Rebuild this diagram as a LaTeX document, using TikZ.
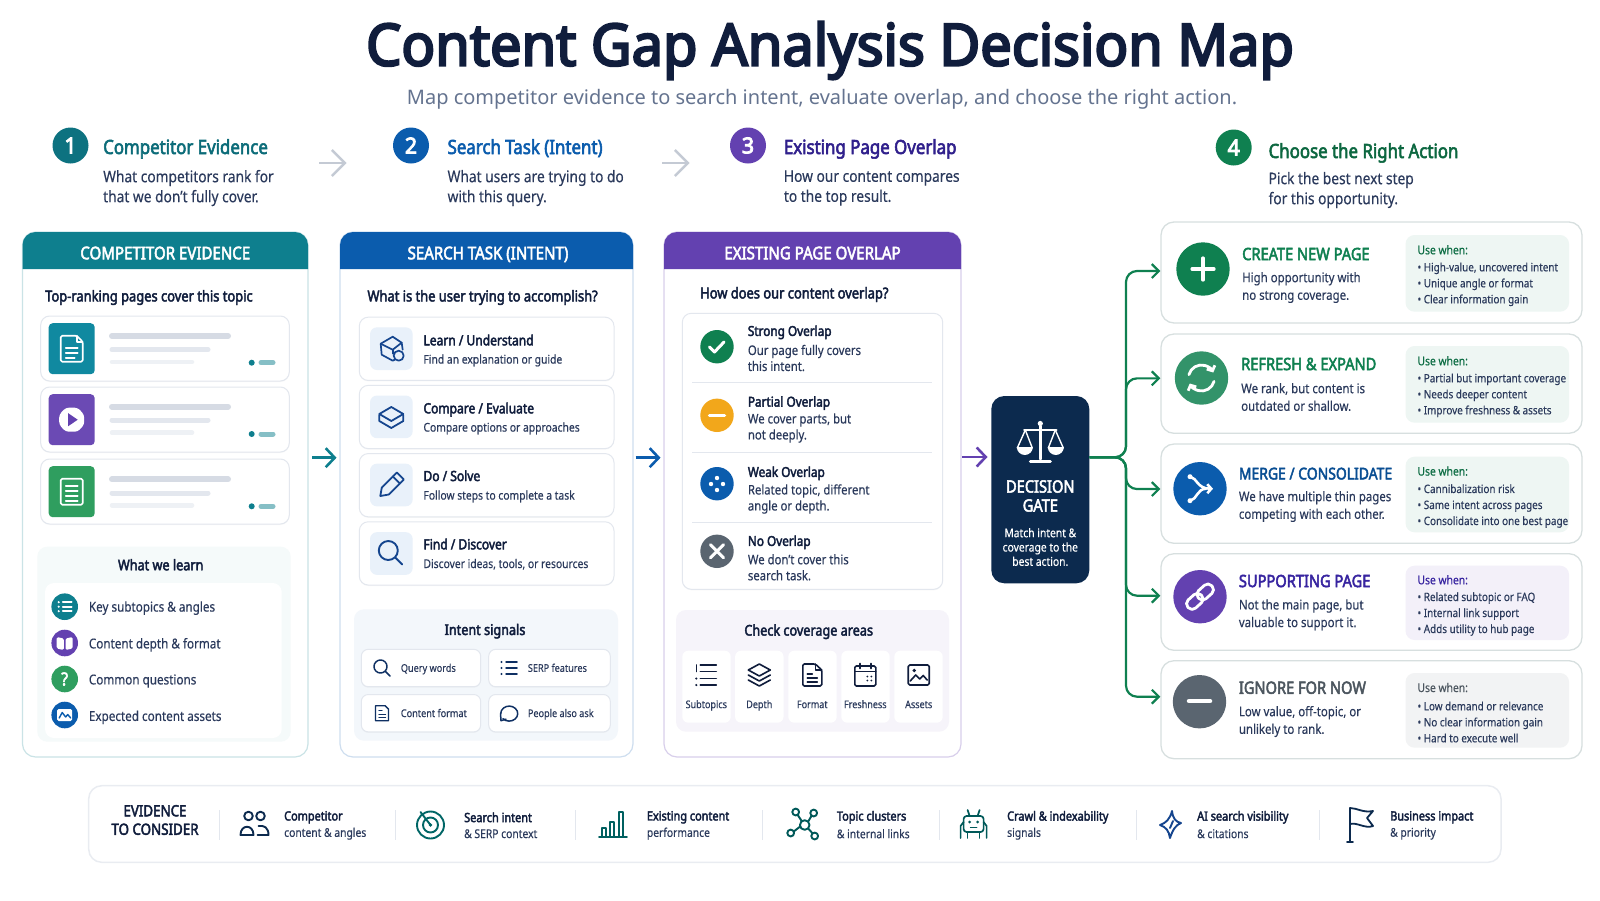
\documentclass[tikz,border=0pt]{standalone}
\usepackage{fontspec}
\setmainfont[FakeStretch=0.86,FakeBold=0.3]{Noto Sans}
\newfontfamily\midfont[FakeStretch=0.86,FakeBold=2.8]{Noto Sans}
\newfontfamily\boldfont[FakeStretch=0.965,FakeBold=4]{Noto Sans}
\newfontfamily\widefont{Noto Sans}
\usepackage{tikz}
\usetikzlibrary{arrows.meta,shadows}

\definecolor{ink}{HTML}{101D3C}
\definecolor{inksoft}{HTML}{2B3A5C}
\definecolor{slate}{HTML}{64738F}
\definecolor{tealc}{HTML}{0E7F8E}
\definecolor{bluec}{HTML}{0B5CAD}
\definecolor{purplec}{HTML}{6341B0}
\definecolor{greenc}{HTML}{0F8050}
\definecolor{greyc}{HTML}{5A6570}
\definecolor{amberc}{HTML}{F2A71B}
\definecolor{gatec}{HTML}{0C2A4E}
\definecolor{taskc}{HTML}{15458E}
\definecolor{taskbg}{HTML}{E9F1FA}
\definecolor{hairline}{HTML}{E3E7EE}
\definecolor{pageteal}{HTML}{1089A0}
\definecolor{pagegreen}{HTML}{2F9E5F}

\begin{document}
\begin{tikzpicture}[%
    x=1pt,
    y=-1pt,
    >={Straight Barb[length=7pt,width=14pt]},
    pane/.style={%
        draw,
        fill=white,
        rounded corners=13pt,
        line width=1.2pt,
        minimum height=525pt,
        inner sep=0pt
    },
    softcard/.style={%
        draw=hairline,
        fill=white,
        rounded corners=9pt,
        line width=1pt,
        inner sep=0pt,
        drop shadow={shadow xshift=0pt,shadow yshift=-1pt,opacity=0.06}
    },
    pagecard/.style={softcard,minimum width=248.6pt,minimum height=65pt},
    pageicon/.style={rounded corners=4pt,minimum width=46pt,minimum height=51pt,inner sep=0pt},
    learnpanel/.style={fill=#1,rounded corners=10pt,inner sep=0pt},
    taskcard/.style={softcard,minimum width=254.7pt,minimum height=63.3pt},
    taskicon/.style={fill=taskbg,rounded corners=7pt,minimum size=42.7pt,inner sep=0pt},
    chipl/.style={softcard,rounded corners=7pt,minimum width=119.4pt,minimum height=37.4pt},
    chipr/.style={softcard,rounded corners=7pt,minimum width=121.6pt,minimum height=37.4pt},
    tile/.style={fill=white,rounded corners=6pt,minimum width=48.4pt,minimum height=72pt,inner sep=0pt},
    actioncard/.style={draw=teal!25!gray!25!white,fill=white,rounded corners=13pt,line width=1.3pt,minimum width=421pt,inner sep=0pt},
    usepanel/.style={fill=#1,rounded corners=9pt,minimum width=163.5pt,inner sep=0pt},
    disc/.style={circle,fill=#1,inner sep=0pt},
    stepdisc/.style={disc=#1,minimum size=36pt,text=white,font=\fontsize{22}{22}\boldfont},
    smalldisc/.style={disc=#1,minimum size=26.6pt},
    overlapdisc/.style={disc=#1,minimum size=33.4pt},
    actiondisc/.style={disc=#1,minimum size=53.4pt},
    txt/.style={inner sep=0pt,anchor=west,align=left,text=ink},
    titletext/.style={inner sep=0pt,text=ink,font=\fontsize{58}{60}\boldfont,text height=41pt,text depth=0pt},
    subtitletext/.style={inner sep=0pt,text=slate,font=\fontsize{20}{24}\widefont,text height=14.5pt,text depth=0pt},
    steptitle/.style={txt,text=#1,font=\fontsize{19.6}{24}\midfont,text height=14pt,text depth=0pt},
    stepsub/.style={txt,text=inksoft,font=\fontsize{16}{20}\selectfont},
    headtext/.style={inner sep=0pt,text=white,font=\fontsize{17.5}{19}\midfont,text height=12.5pt,text depth=0pt},
    question/.style={txt,font=\fontsize{15}{17}\midfont,text height=10.8pt,text depth=0pt},
    paneltitle/.style={inner sep=0pt,text=ink,font=\fontsize{14.7}{17}\midfont,text height=10.5pt,text depth=0pt},
    learntext/.style={txt,text=inksoft,font=\fontsize{13.6}{16}\selectfont,text height=9.8pt,text depth=0pt},
    itemtitle/.style={txt,font=\fontsize{14}{17}\midfont,text height=10pt,text depth=0pt},
    itemsub/.style={txt,text=inksoft,font=\fontsize{12}{14}\selectfont,text height=8.6pt,text depth=0pt},
    overlaptitle/.style={txt,font=\fontsize{13.7}{16}\midfont,text height=9.8pt,text depth=0pt},
    overlapsub/.style={txt,text=inksoft,font=\fontsize{13.2}{16}\selectfont},
    chiptext/.style={txt,text=inksoft,font=\fontsize{10.6}{13}\selectfont,text height=7.6pt,text depth=0pt},
    tiletext/.style={inner sep=0pt,text=inksoft,font=\fontsize{10.5}{13}\selectfont,text height=7.6pt,text depth=0pt},
    gatetitle/.style={inner sep=0pt,align=center,text=white,font=\fontsize{17}{19}\midfont},
    gatesub/.style={inner sep=0pt,align=center,text=white,font=\fontsize{12}{14.3}\selectfont},
    actiontitle/.style={txt,text=#1,font=\fontsize{17}{19}\midfont,text height=12.2pt,text depth=0pt},
    actionsub/.style={txt,text=inksoft,font=\fontsize{13.3}{17.6}\selectfont},
    usehead/.style={txt,text=#1,font=\fontsize{12}{14}\selectfont,text height=8.6pt,text depth=0pt},
    usebullets/.style={txt,text=inksoft,font=\fontsize{11.5}{16}\selectfont},
    bartitle/.style={inner sep=0pt,align=center,text=ink,font=\fontsize{15.5}{18.5}\midfont},
    bartext/.style={txt,text=inksoft,font=\fontsize{12}{16.4}\selectfont},
    barlead/.style={font=\fontsize{12.7}{16.4}\midfont},
    divider/.style={draw=hairline,line width=1pt},
    bar/.style={line width=#1,line cap=round},
    glyph/.style={line width=#1,line cap=round,line join=round},
    flow/.style={line width=2.6pt,draw=#1,>={Straight Barb[length=9pt,width=19pt]}},
    stepflow/.style={line width=2.4pt,draw=slate!38!white,>={Straight Barb[length=13pt,width=26pt]}},
    branch/.style={line width=2.2pt,draw=greenc,rounded corners=11pt}
]

% Title
    \node[titletext] (title) at (830,45) {Content Gap Analysis Decision Map};
    \node[subtitletext] (subtitle) at (822,97) {Map competitor evidence to search intent, evaluate overlap, and choose the right action.};

% Steps
    \node[stepdisc=tealc!90!black] (disc1) at (70.5,145.5) {1};
    \node[steptitle={tealc!85!black}] (steptitle1) at (103,147) {Competitor Evidence};
    \node[stepsub] (stepsub1) at (103,188) {What competitors rank for\\that we don't fully cover.};
    \node[stepdisc=bluec] (disc2) at (411,145.5) {2};
    \node[steptitle=bluec] (steptitle2) at (447.4,147) {Search Task (Intent)};
    \node[stepsub] (stepsub2) at (447.4,188) {What users are trying to do\\with this query.};
    \node[stepdisc=purplec] (disc3) at (748,145.5) {3};
    \node[steptitle={purplec!70!blue!70!black}] (steptitle3) at (783.7,147) {Existing Page Overlap};
    \node[stepsub] (stepsub3) at (783.7,188) {How our content compares\\to the top result.};
    \node[stepdisc=greenc] (disc4) at (1233.7,147.5) {4};
    \node[steptitle={greenc!80!black}] (steptitle4) at (1268.4,151) {Choose the Right Action};
    \node[stepsub] (stepsub4) at (1268.4,190) {Pick the best next step\\for this opportunity.};

    \coordinate (stepfrom1) at (319,163);
    \coordinate (stepto1) at (346.5,163);
    \coordinate (stepfrom2) at (662,163);
    \coordinate (stepto2) at (689.5,163);
    \draw[stepflow,->] (stepfrom1) -- (stepto1);
    \draw[stepflow,->] (stepfrom2) -- (stepto2);

% Panes
    \node[pane,draw=tealc!22!white,minimum width=285.5pt] (pane1) at (165.25,494.5) {};
    \node[pane,draw=bluec!20!white,minimum width=293pt] (pane2) at (486.5,494.5) {};
    \node[pane,draw=purplec!25!white,minimum width=297pt] (pane3) at (812.5,494.5) {};
    \fill[tealc] (22.5,269) [rounded corners=13pt] -- (22.5,232) -- (308,232) [sharp corners] -- (308,269) -- cycle;
    \fill[bluec] (340,269) [rounded corners=13pt] -- (340,232) -- (633,232) [sharp corners] -- (633,269) -- cycle;
    \fill[purplec] (664,269) [rounded corners=13pt] -- (664,232) -- (961,232) [sharp corners] -- (961,269) -- cycle;
    \node[headtext] (head1) at (165.25,253) {COMPETITOR EVIDENCE};
    \node[headtext] (head2) at (488,253) {SEARCH TASK (INTENT)};
    \node[headtext] (head3) at (812.5,253) {EXISTING PAGE OVERLAP};

% Competitor pane
    \node[question] (question1) at (45,296) {Top-ranking pages cover this topic};
    \node[pagecard] (page1) at (165,348.5) {};
    \node[pagecard] (page2) at (165,419.5) {};
    \node[pagecard] (page3) at (165,491.5) {};
    \node[pageicon,fill=pageteal] (pageicon1) at (71.7,348.7) {};
    \node[pageicon,fill=purplec!95!white] (pageicon2) at (71.7,419.7) {};
    \node[pageicon,fill=pagegreen] (pageicon3) at (71.7,491.7) {};
    \begin{scope}[shift={(71.7,348.7)},draw=white,glyph=1.6pt]
        \draw[rounded corners=1.5pt] (-11,-13) -- (5,-13) -- (11,-7) -- (11,13) -- (-11,13) -- cycle;
        \draw (5,-13) -- (5,-7) -- (11,-7);
        \draw (-6,-1) -- (6,-1);
        \draw (-6,4) -- (6,4);
        \draw (-6,9) -- (3,9);
    \end{scope}
    \begin{scope}[shift={(71.7,419.7)}]
        \fill[white,rounded corners=3pt] (-12.5,-5) -- (-6,-12) -- (6,-12) -- (12.5,-5) -- (12.5,5) -- (6,12) -- (-6,12) -- (-12.5,5) -- cycle;
        \fill[purplec] (-3.5,-6.5) -- (6,0) -- (-3.5,6.5) -- cycle;
    \end{scope}
    \begin{scope}[shift={(71.7,491.7)},draw=white,glyph=1.6pt]
        \draw[rounded corners=1.5pt] (-11,-13) rectangle (11,13);
        \draw (-6,-6) -- (6,-6);
        \draw (-6,-1) -- (6,-1);
        \draw (-6,4) -- (6,4);
        \draw (-6,9) -- (6,9);
    \end{scope}
    \draw[bar=6pt,draw=hairline!90!slate] (112,336) -- (228,336);
    \draw[bar=5pt,draw=hairline] (112,349.7) -- (208,349.7);
    \draw[bar=4.5pt,draw=hairline!60!white] (112,362) -- (192,362);
    \fill[tealc] (251.7,362.7) circle[radius=3];
    \draw[bar=5pt,draw=tealc!50!white] (261,362.7) -- (273,362.7);
    \draw[bar=6pt,draw=hairline!90!slate] (112,406.7) -- (228,406.7);
    \draw[bar=5pt,draw=hairline] (112,420) -- (208,420);
    \draw[bar=4.5pt,draw=hairline!60!white] (112,432.7) -- (192,432.7);
    \fill[tealc] (251.7,434) circle[radius=3];
    \draw[bar=5pt,draw=tealc!50!white] (261,434) -- (273,434);
    \draw[bar=6pt,draw=hairline!90!slate] (112,479.3) -- (228,479.3);
    \draw[bar=5pt,draw=hairline] (112,493) -- (208,493);
    \draw[bar=4.5pt,draw=hairline!60!white] (112,505.3) -- (192,505.3);
    \fill[tealc] (251.7,506.3) circle[radius=3];
    \draw[bar=5pt,draw=tealc!50!white] (261,506.3) -- (273,506.3);

% What we learn
    \node[learnpanel=tealc!4!white,minimum width=253.4pt,minimum height=195pt] (learnpanel) at (164,644.2) {};
    \node[fill=white,rounded corners=9pt,minimum width=236.7pt,minimum height=155pt,inner sep=0pt] (learninner) at (163.35,660.5) {};
    \node[paneltitle] (learntitle) at (160.7,565) {What we learn};
    \node[smalldisc=tealc] (learndisc1) at (64.7,606.7) {};
    \node[smalldisc=purplec] (learndisc2) at (64.7,643) {};
    \node[smalldisc=pagegreen,text=white,font=\fontsize{18}{18}\midfont] (learndisc3) at (64.7,679) {?};
    \node[smalldisc=bluec] (learndisc4) at (64.7,715) {};
    \node[learntext] (learntext1) at (88.7,606.7) {Key subtopics \& angles};
    \node[learntext] (learntext2) at (88.7,643.5) {Content depth \& format};
    \node[learntext] (learntext3) at (88.7,679.5) {Common questions};
    \node[learntext] (learntext4) at (88.7,716) {Expected content assets};
    \begin{scope}[shift={(64.7,606.7)},draw=white,glyph=1.6pt]
        \draw (-2,-4.5) -- (7,-4.5);
        \draw (-2,0) -- (7,0);
        \draw (-2,4.5) -- (7,4.5);
        \fill[white] (-6,-4.5) circle[radius=1.2];
        \fill[white] (-6,0) circle[radius=1.2];
        \fill[white] (-6,4.5) circle[radius=1.2];
    \end{scope}
    \begin{scope}[shift={(64.7,643)}]
        \fill[white,rounded corners=1.5pt] (-8,-6) -- (-0.8,-4.5) -- (-0.8,7) -- (-8,5.5) -- cycle;
        \fill[white,rounded corners=1.5pt] (8,-6) -- (0.8,-4.5) -- (0.8,7) -- (8,5.5) -- cycle;
    \end{scope}
    \begin{scope}[shift={(64.7,715)}]
        \fill[white,rounded corners=1.5pt] (-7.5,-6) rectangle (7.5,6);
        \draw[glyph=1.4pt,draw=bluec] (-5.5,3) -- (-2.5,-2.5) -- (1,2) -- (3,-0.5) -- (6,3);
    \end{scope}

% Teal arrow
    \coordinate (from1) at (312,457.7);
    \coordinate (to1) at (336.5,457.7);
    \draw[flow=tealc,->] (from1) -- (to1);

% Search task pane
    \node[question] (question2) at (367.3,296) {What is the user trying to accomplish?};
    \node[taskcard] (task1) at (486.65,348.8) {};
    \node[taskcard] (task2) at (486.65,417) {};
    \node[taskcard] (task3) at (486.65,485.2) {};
    \node[taskcard] (task4) at (486.65,553.4) {};
    \node[taskicon] (taskicon1) at (391.35,348.65) {};
    \node[taskicon] (taskicon2) at (391.35,416.85) {};
    \node[taskicon] (taskicon3) at (391.35,485) {};
    \node[taskicon] (taskicon4) at (391.35,553.5) {};
    \node[itemtitle] (tasktitle1) at (423.3,340.3) {Learn / Understand};
    \node[itemsub] (tasksub1) at (423.3,359.3) {Find an explanation or guide};
    \node[itemtitle] (tasktitle2) at (423.3,408.3) {Compare / Evaluate};
    \node[itemsub] (tasksub2) at (423.3,427.3) {Compare options or approaches};
    \node[itemtitle] (tasktitle3) at (423.3,476) {Do / Solve};
    \node[itemsub] (tasksub3) at (423.3,495.3) {Follow steps to complete a task};
    \node[itemtitle] (tasktitle4) at (423.3,544.3) {Find / Discover};
    \node[itemsub] (tasksub4) at (423.3,563.7) {Discover ideas, tools, or resources};
    \begin{scope}[shift={(391.7,348.7)},draw=taskc,glyph=1.7pt]
        \draw (-11,-5) -- (1,-12) -- (10,-6) -- (11,1);
        \draw (-11,-5) -- (-10,6) -- (1,12) -- (3,11);
        \draw (-11,-5) -- (1,1) -- (10,-6);
        \draw (1,1) -- (1,5);
        \draw[fill=taskbg] (7,7) circle[radius=5];
    \end{scope}
    \begin{scope}[shift={(391.3,417)},draw=taskc,glyph=1.8pt]
        \draw (-12,-3) -- (0,-10) -- (12,-3) -- (0,4) -- cycle;
        \draw (-12,-2) -- (-12,4) -- (0,11) -- (12,4) -- (12,-2);
    \end{scope}
    \begin{scope}[shift={(391.3,485)},draw=taskc,glyph=1.8pt]
        \draw (-11,11) -- (-9.5,2.5) -- (5.5,-12.5) -- (12.5,-5.5) -- (-2.5,9.5) -- cycle;
        \draw (1.5,-8.5) -- (8.5,-1.5);
    \end{scope}
    \begin{scope}[shift={(391.3,553.5)},draw=taskc,glyph=1.9pt]
        \draw (-3,-3) circle[radius=9.5];
        \draw (4,4) -- (11,11);
    \end{scope}

% Intent signals
    \node[learnpanel=bluec!5!white,minimum width=264pt,minimum height=131.4pt] (signalpanel) at (486,675) {};
    \node[paneltitle] (signaltitle) at (485,629.7) {Intent signals};
    \node[chipl] (chip1) at (421,668) {};
    \node[chipr] (chip2) at (549.5,668) {};
    \node[chipl] (chip3) at (421,713.2) {};
    \node[chipr] (chip4) at (549.5,713.2) {};
    \node[chiptext] (chiptext1) at (400.7,668) {Query words};
    \node[chiptext] (chiptext2) at (527.7,668) {SERP features};
    \node[chiptext] (chiptext3) at (400.7,713.2) {Content format};
    \node[chiptext] (chiptext4) at (527.7,713.2) {People also ask};
    \begin{scope}[shift={(382,668)},draw=taskc!70!black,glyph=1.5pt]
        \draw (-1.5,-1.5) circle[radius=6.5];
        \draw (3.5,3.5) -- (8,8);
    \end{scope}
    \begin{scope}[shift={(509,668)},draw=taskc!70!black,glyph=1.5pt]
        \draw (-3,-6) -- (8,-6);
        \draw (-3,0) -- (8,0);
        \draw (-3,6) -- (8,6);
        \fill[taskc!70!black] (-7.5,-6) circle[radius=1.1];
        \fill[taskc!70!black] (-7.5,0) circle[radius=1.1];
        \fill[taskc!70!black] (-7.5,6) circle[radius=1.1];
    \end{scope}
    \begin{scope}[shift={(382,713.2)},draw=taskc!70!black,glyph=1.4pt]
        \draw (-6.5,-7.5) -- (3,-7.5) -- (6.5,-4) -- (6.5,7.5) -- (-6.5,7.5) -- cycle;
        \draw (-3,-3) -- (0,-3);
        \draw (-3,1) -- (3.5,1);
        \draw (-3,4.5) -- (3.5,4.5);
    \end{scope}
    \begin{scope}[shift={(509,713.2)},draw=taskc!70!black,glyph=1.5pt]
        \draw (-6,5.5) arc[start angle=137,end angle=-180,x radius=8.5,y radius=7.5];
        \draw (-8.5,0.3) -- (-8,7.5) -- (-3,6);
    \end{scope}

% Purple and blue arrows
    \coordinate (from2) at (635.5,457.7);
    \coordinate (to2) at (660.5,457.7);
    \draw[flow=bluec,->] (from2) -- (to2);
    \coordinate (from3) at (962,457);
    \coordinate (to3) at (987.5,457);
    \draw[flow=purplec,->] (from3) -- (to3);

% Overlap pane
    \node[question] (question3) at (700,293) {How does our content overlap?};
    \node[softcard,minimum width=260.4pt,minimum height=276pt] (overlapcard) at (812.5,451.3) {};
    \draw[divider] (692.3,382.3) -- (932,382.3);
    \draw[divider] (692.3,452.3) -- (932,452.3);
    \draw[divider] (692.3,522.3) -- (932,522.3);
    \node[overlapdisc=greenc] (overlap1) at (717,346.7) {};
    \node[overlapdisc=amberc] (overlap2) at (717,415.3) {};
    \node[overlapdisc=bluec] (overlap3) at (717,483.7) {};
    \node[overlapdisc=greyc] (overlap4) at (717,551.3) {};
    \draw[glyph=3pt,draw=white] (709.5,347) -- (714.5,352) -- (724,342);
    \draw[glyph=3.5pt,draw=white] (709.5,415.3) -- (724.5,415.3);
    \fill[white] (717,478) circle[radius=2.2];
    \fill[white] (711,484) circle[radius=2.2];
    \fill[white] (723,484) circle[radius=2.2];
    \fill[white] (717,490) circle[radius=2.2];
    \draw[glyph=3pt,draw=white] (710.5,544.8) -- (723.5,557.8);
    \draw[glyph=3pt,draw=white] (723.5,544.8) -- (710.5,557.8);
    \node[overlaptitle] (overlaptitle1) at (747.7,331) {Strong Overlap};
    \node[overlapsub] (overlapsub1) at (747.7,358) {Our page fully covers\\this intent.};
    \node[overlaptitle] (overlaptitle2) at (747.7,401.7) {Partial Overlap};
    \node[overlapsub] (overlapsub2) at (747.7,428) {We cover parts, but\\not deeply.};
    \node[overlaptitle] (overlaptitle3) at (747.7,472) {Weak Overlap};
    \node[overlapsub] (overlapsub3) at (747.7,499) {Related topic, different\\angle or depth.};
    \node[overlaptitle] (overlaptitle4) at (747.7,541) {No Overlap};
    \node[overlapsub] (overlapsub4) at (747.7,567.3) {We don't cover this\\search task.};

% Check coverage areas
    \node[learnpanel=purplec!6!white,minimum width=273pt,minimum height=121.7pt] (coveragepanel) at (812.5,670.85) {};
    \node[paneltitle] (coveragetitle) at (808.7,630.3) {Check coverage areas};
    \node[tile] (tile1) at (706.5,686.7) {};
    \node[tile] (tile2) at (759.3,686.7) {};
    \node[tile] (tile3) at (812.5,686.7) {};
    \node[tile] (tile4) at (865.5,686.7) {};
    \node[tile] (tile5) at (918.5,686.7) {};
    \node[tiletext] (tiletext1) at (706.3,704.3) {Subtopics};
    \node[tiletext] (tiletext2) at (759.3,704.3) {Depth};
    \node[tiletext] (tiletext3) at (812.3,704.3) {Format};
    \node[tiletext] (tiletext4) at (865.3,704.3) {Freshness};
    \node[tiletext] (tiletext5) at (918.7,704.3) {Assets};
    \begin{scope}[shift={(706.3,675)},draw=ink,glyph=1.6pt]
        \draw (-6,-10) -- (10,-10);
        \draw (-6,-3.5) -- (10,-3.5);
        \draw (-6,3.5) -- (10,3.5);
        \draw (-6,10) -- (10,10);
        \draw (-10,-10) -- (-10,-3.5);
        \fill[ink] (-10,3.5) circle[radius=1.2];
        \fill[ink] (-10,10) circle[radius=1.2];
    \end{scope}
    \begin{scope}[shift={(759.3,675)},draw=ink,glyph=1.6pt]
        \draw (-11,-5) -- (0,-11) -- (11,-5) -- (0,1) -- cycle;
        \draw (-11,0) -- (0,6) -- (11,0);
        \draw (-11,5) -- (0,11) -- (11,5);
    \end{scope}
    \begin{scope}[shift={(812.3,675)},draw=ink,glyph=1.6pt]
        \draw[rounded corners=1.5pt] (-9.5,-11) -- (3,-11) -- (9.5,-5) -- (9.5,11) -- (-9.5,11) -- cycle;
        \draw (3,-11) -- (3,-5) -- (9.5,-5);
        \draw (-5,-1) -- (0,-1);
        \draw (-5,3) -- (5,3);
        \draw (-5,7) -- (5,7);
    \end{scope}
    \begin{scope}[shift={(865.3,675)},draw=ink,glyph=1.6pt]
        \draw[rounded corners=1.5pt] (-10.5,-9) rectangle (10.5,11);
        \draw (-10.5,-3.5) -- (10.5,-3.5);
        \draw (-5.5,-11.5) -- (-5.5,-6.5);
        \draw (5.5,-11.5) -- (5.5,-6.5);
        \fill[ink] (2,1.5) circle[radius=1];
        \fill[ink] (6,1.5) circle[radius=1];
        \fill[ink] (2,5.5) circle[radius=1];
        \fill[ink] (6,5.5) circle[radius=1];
    \end{scope}
    \begin{scope}[shift={(918.7,675)},draw=ink,glyph=1.6pt]
        \draw[rounded corners=1.5pt] (-10.5,-10) rectangle (10.5,10);
        \fill[ink] (-4.5,-4.5) circle[radius=1.9];
        \draw (-8.5,6) -- (-3,0) -- (1,4) -- (4.5,0.5) -- (8.5,5);
    \end{scope}

% Decision gate
    \node[fill=gatec,rounded corners=13pt,minimum width=98pt,minimum height=187.3pt,inner sep=0pt] (gate) at (1040.3,489.65) {};
    \node[gatetitle] (gatetitle) at (1040.3,496) {DECISION\\GATE};
    \node[gatesub] (gatesub) at (1040.3,547) {Match intent \&\\coverage to the\\best action.};
    \begin{scope}[shift={(1040.3,442)},draw=white,glyph=2pt]
        \fill[white] (0,-18.5) circle[radius=2.6];
        \draw[line width=3pt] (0,-16) -- (0,17);
        \draw[line width=3pt] (-10,19) -- (10,19);
        \draw[line width=2.6pt] (-16,-12) -- (16,-12);
        \draw[line width=1.4pt] (-15,-12) -- (-23,6);
        \draw[line width=1.4pt] (-15,-12) -- (-8,6);
        \draw[line width=1.4pt] (15,-12) -- (23,6);
        \draw[line width=1.4pt] (15,-12) -- (8,6);
        \fill[white] (-23.5,5) arc[start angle=180,end angle=0,radius=8];
        \fill[white] (7.5,5) arc[start angle=180,end angle=0,radius=8];
    \end{scope}

% Action cards
    \node[actioncard,minimum height=101pt] (action1) at (1371.5,272.5) {};
    \node[actioncard,minimum height=99.3pt] (action2) at (1371.5,383.65) {};
    \node[actioncard,minimum height=99.3pt] (action3) at (1371.5,493.65) {};
    \node[actioncard,minimum height=96.6pt] (action4) at (1371.5,602) {};
    \node[actioncard,minimum height=98pt] (action5) at (1371.5,709.7) {};
    \node[usepanel=greenc!7!white,minimum height=76.7pt] (usepanel1) at (1487.3,273.35) {};
    \node[usepanel=greenc!7!white,minimum height=76.7pt] (usepanel2) at (1487.3,384.35) {};
    \node[usepanel=greenc!7!white,minimum height=75.6pt] (usepanel3) at (1487.3,494.5) {};
    \node[usepanel=purplec!8!white,minimum height=74.3pt] (usepanel4) at (1487.3,602.85) {};
    \node[usepanel=greyc!8!white,minimum height=74.7pt] (usepanel5) at (1487.3,710.35) {};
    \node[actiondisc=greenc] (actiondisc1) at (1203,269) {};
    \node[actiondisc=greenc!85!white] (actiondisc2) at (1201.5,378) {};
    \node[actiondisc=bluec] (actiondisc3) at (1200,488.7) {};
    \node[actiondisc=purplec] (actiondisc4) at (1200,596.7) {};
    \node[actiondisc=greyc] (actiondisc5) at (1199.5,701.7) {};
    \begin{scope}[shift={(1203,269)},draw=white,glyph=3.2pt]
        \draw (-11,0) -- (11,0);
        \draw (0,-11) -- (0,11);
    \end{scope}
    \begin{scope}[shift={(1201.5,378)},draw=white,glyph=2.8pt]
        \draw[-{Straight Barb[length=4pt,width=9pt]}] (195:13) arc[start angle=195,end angle=335,radius=13];
        \draw[-{Straight Barb[length=4pt,width=9pt]}] (15:13) arc[start angle=15,end angle=155,radius=13];
    \end{scope}
    \begin{scope}[shift={(1200,488.7)},draw=white,glyph=2.6pt]
        \draw[-{Straight Barb[length=4pt,width=9pt]}] (-10,-12) .. controls (-3,-11) and (-3,0) .. (13,0);
        \draw (-10,12) .. controls (-3,11) and (-3,0) .. (6,0);
        \fill[white] (-10,-12) circle[radius=2.5];
        \fill[white] (-10,12) circle[radius=2.5];
    \end{scope}
    \begin{scope}[shift={(1200,596.7)},rotate=42,draw=white,glyph=2.8pt]
        \draw[rounded corners=5pt] (-16,-5.5) rectangle (2,5.5);
        \draw[rounded corners=5pt] (-2,-5.5) rectangle (16,5.5);
    \end{scope}
    \draw[glyph=4.5pt,draw=white] (1189,701) -- (1210,701);
    \node[actiontitle=greenc] (actiontitle1) at (1242,254) {CREATE NEW PAGE};
    \node[actionsub] (actionsub1) at (1242,287.5) {High opportunity with\\no strong coverage.};
    \node[actiontitle=greenc] (actiontitle2) at (1241,364) {REFRESH \& EXPAND};
    \node[actionsub] (actionsub2) at (1241,397) {We rank, but content is\\outdated or shallow.};
    \node[actiontitle={bluec!85!black},font=\fontsize{16.2}{19}\midfont] (actiontitle3) at (1238.7,473.3) {MERGE / CONSOLIDATE};
    \node[actionsub] (actionsub3) at (1238.7,506.5) {We have multiple thin pages\\competing with each other.};
    \node[actiontitle={purplec!70!blue!80!black}] (actiontitle4) at (1238.7,581) {SUPPORTING PAGE};
    \node[actionsub] (actionsub4) at (1238.7,614.8) {Not the main page, but\\valuable to support it.};
    \node[actiontitle={greyc!85!black}] (actiontitle5) at (1238.7,687.7) {IGNORE FOR NOW};
    \node[actionsub] (actionsub5) at (1238.7,721.5) {Low value, off-topic, or\\unlikely to rank.};
    \node[usehead={greenc!85!black}] (usehead1) at (1417.3,250) {Use when:};
    \node[usebullets] (usebullets1) at (1417.3,284.3) {• High-value, uncovered intent\\• Unique angle or format\\• Clear information gain};
    \node[usehead={greenc!85!black}] (usehead2) at (1417.3,361) {Use when:};
    \node[usebullets] (usebullets2) at (1417.3,395.3) {• Partial but important coverage\\• Needs deeper content\\• Improve freshness \& assets};
    \node[usehead={greenc!85!black}] (usehead3) at (1417.3,471.3) {Use when:};
    \node[usebullets] (usebullets3) at (1417.3,506) {• Cannibalization risk\\• Same intent across pages\\• Consolidate into one best page};
    \node[usehead={purplec!70!blue!80!black}] (usehead4) at (1417.3,580) {Use when:};
    \node[usebullets] (usebullets4) at (1417.3,614) {• Related subtopic or FAQ\\• Internal link support\\• Adds utility to hub page};
    \node[usehead={greyc!85!black}] (usehead5) at (1417.3,687.7) {Use when:};
    \node[usebullets] (usebullets5) at (1417.3,722) {• Low demand or relevance\\• No clear information gain\\• Hard to execute well};

% Branches
    \coordinate (junction) at (1126,457.3);
    \draw[branch,->] (gate.east |- junction) -- (junction) |- ([yshift=1.5pt]action1.west);
    \draw[branch,->] (gate.east |- junction) -- (junction) |- ([yshift=5.3pt]action2.west);
    \draw[branch,->] (gate.east |- junction) -- (junction) |- ([yshift=4.6pt]action3.west);
    \draw[branch,->] (gate.east |- junction) -- (junction) |- ([yshift=6.3pt]action4.west);
    \draw[branch,->] (gate.east |- junction) -- (junction) |- ([yshift=13pt]action5.west);

% Evidence bar
    \node[draw=hairline!80!white,fill=white,rounded corners=13pt,line width=1.5pt,minimum width=1412.3pt,minimum height=76.6pt,inner sep=0pt] (evidencebar) at (794.85,824) {};
    \node[bartitle] (bartitle) at (155,820) {EVIDENCE\\TO CONSIDER};
    \draw[divider] (219,810) -- (219,840);
    \draw[divider] (395.6,810) -- (395.6,840);
    \draw[divider] (575,810) -- (575,840);
    \draw[divider] (762.5,810) -- (762.5,840);
    \draw[divider] (939.6,810) -- (939.6,840);
    \draw[divider] (1136,810) -- (1136,840);
    \draw[divider] (1319,810) -- (1319,840);
    \node[barlead,txt] (barlead1) at (284,817.3) {Competitor};
    \node[bartext] (bartext1) at (284,833.7) {content \& angles};
    \node[barlead,txt] (barlead2) at (464,817.3) {Search intent};
    \node[bartext] (bartext2) at (464,833.7) {\& SERP context};
    \node[barlead,txt] (barlead3) at (646.7,817.3) {Existing content};
    \node[bartext] (bartext3) at (646.7,833.7) {performance};
    \node[barlead,txt] (barlead4) at (836.7,817.3) {Topic clusters};
    \node[bartext] (bartext4) at (836.7,833.7) {\& internal links};
    \node[barlead,txt] (barlead5) at (1007,817.3) {Crawl \& indexability};
    \node[bartext] (bartext5) at (1007,833.7) {signals};
    \node[barlead,txt] (barlead6) at (1197,817.3) {AI search visibility};
    \node[bartext] (bartext6) at (1197,833.7) {\& citations};
    \node[barlead,txt] (barlead7) at (1390,817.3) {Business impact};
    \node[bartext] (bartext7) at (1390,833.7) {\& priority};
    \begin{scope}[shift={(254.5,825)},draw=gatec,glyph=1.9pt]
        \draw (-6,-9) circle[radius=4.3];
        \draw (6,-9) circle[radius=4.3];
        \draw (-14,10) .. controls (-14,-1) and (-1,-1) .. (-1,10) -- cycle;
        \draw (4,1) .. controls (10,0) and (14,3) .. (14,10) -- (3,10);
    \end{scope}
    \begin{scope}[shift={(430.5,825)},draw=teal!80!black,glyph=1.9pt]
        \draw (0,0) circle[radius=13.5];
        \draw (0,0) circle[radius=7.5];
        \fill[teal!80!black] (0,0) circle[radius=1.8];
        \draw (-10,-13) -- (0,0);
    \end{scope}
    \begin{scope}[shift={(613,825)},draw=teal!75!black,glyph=1.7pt]
        \draw (-14,12) -- (14,12);
        \draw (-11,12) -- (-11,3) -- (-7,3) -- (-7,12);
        \draw (-3,12) -- (-3,-3) -- (1,-3) -- (1,12);
        \draw (6,12) -- (6,-13) -- (10,-13) -- (10,12);
    \end{scope}
    \begin{scope}[shift={(804.7,825)},draw=teal!70!black,glyph=1.9pt]
        \draw (0,0) circle[radius=4.8];
        \draw (-9,-13) circle[radius=3.4];
        \draw (9,-12) circle[radius=3.4];
        \draw (-14,8) circle[radius=3.4];
        \draw (10,11) circle[radius=3.4];
        \draw (-3,-4) -- (-7,-10);
        \draw (3.5,-3.5) -- (7,-9.5);
        \draw (-4.5,1.5) -- (-11,6.5);
        \draw (3.5,3.5) -- (8,8.5);
    \end{scope}
    \begin{scope}[shift={(973.6,824)},draw=teal!70!black,glyph=1.7pt]
        \draw[rounded corners=3pt] (-10,-8) rectangle (10,8);
        \draw (-4,-8) -- (-6,-14);
        \draw (4,-8) -- (6,-14);
        \fill[teal!70!black] (-4,-2) circle[radius=1.5];
        \fill[teal!70!black] (4,-2) circle[radius=1.5];
        \draw (-3,3.5) -- (3,3.5);
        \draw (-10,-2) -- (-13,2) -- (-13,14);
        \draw (10,-2) -- (13,2) -- (13,14);
        \draw (-6,8) -- (-6,14);
        \draw (6,8) -- (6,14);
    \end{scope}
    \begin{scope}[shift={(1171,825)},draw=taskc,glyph=1.9pt]
        \draw (1,-14) .. controls (2,-6) and (5,-3) .. (10,-2) .. controls (5,0) and (2,4) .. (-1,13) .. controls (-2,6) and (-5,2) .. (-11,0) .. controls (-5,-2) and (-1,-6) .. (1,-14) -- cycle;
        \draw (2,-4) -- (-1,3);
    \end{scope}
    \begin{scope}[shift={(1361,825)},draw=gatec,glyph=1.8pt]
        \draw (-11,-17) -- (-11,17);
        \draw (-14,17) -- (-8,17);
        \draw (-11,-17) .. controls (-4,-17) and (2,-12) .. (12,-14) -- (6,-7) -- (12,1) .. controls (4,4) and (-4,-3) .. (-11,-1);
    \end{scope}

% Margins
    \useasboundingbox (0,0) rectangle (1600,900);
\end{tikzpicture}
\end{document}
